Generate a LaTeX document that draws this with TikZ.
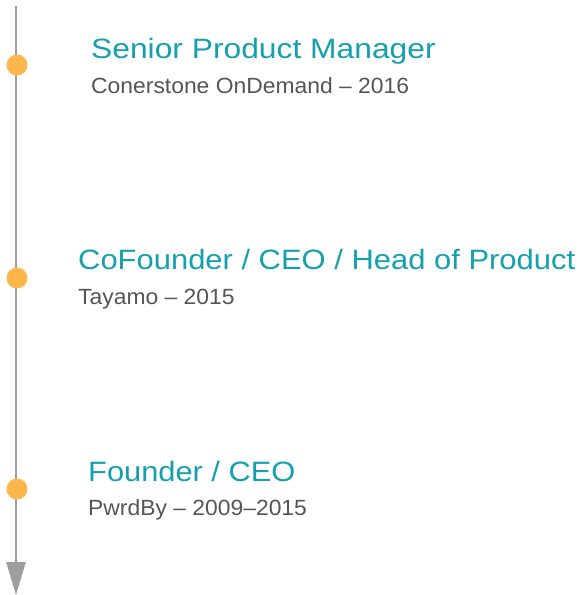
\documentclass[tikz,border=0pt]{standalone}
\usepackage{fontspec}
\setmainfont{Liberation Sans}
\usetikzlibrary{arrows.meta}
\definecolor{teal1}{HTML}{14A0AE}
\definecolor{sub1}{HTML}{555555}
\definecolor{dot1}{HTML}{FDB64A}
\definecolor{line1}{HTML}{9E9E9E}
\newcommand{\wtitle}[2]{\scalebox{#1}[1]{#2}}
\newcommand{\wsub}[1]{\scalebox{1.04}[1]{#1}}
\tikzset{
  titlebox/.style={anchor=base west, inner sep=0pt, text=teal1, font=\fontsize{28}{30}\selectfont},
  subbox/.style={anchor=base west, inner sep=0pt, text=sub1, font=\fontsize{22}{24}\selectfont},
  dotbox/.style={circle, fill=dot1, inner sep=0pt, minimum size=21pt},
  axis/.style={draw=line1, line width=2.5pt, -{Triangle[length=33pt,width=19pt]}}
}
\begin{document}
\begin{tikzpicture}[x=1pt,y=-1pt]
\useasboundingbox (0,0) rectangle (579,595);
\coordinate (top) at (16,6);
\coordinate (bot) at (16,595);
\draw[axis] (top) -- (bot);
\node[dotbox] (d1) at (17,65) {};
\node[dotbox] (d2) at (17,278) {};
\node[dotbox] (d3) at (17,489) {};
\node[titlebox] (t1) at (91,58) {\wtitle{1.135}{Senior Product Manager}};
\node[subbox] (s1) at (91,93) {\wsub{Conerstone OnDemand – 2016}};
\node[titlebox] (t2) at (78,269) {\wtitle{1.105}{CoFounder / CEO / Head of Product}};
\node[subbox] (s2) at (78,304) {\wsub{Tayamo – 2015}};
\node[titlebox] (t3) at (88,481) {\wtitle{1.1}{Founder / CEO}};
\node[subbox] (s3) at (88,515) {\wsub{PwrdBy – 2009–2015}};
\end{tikzpicture}
\end{document}
